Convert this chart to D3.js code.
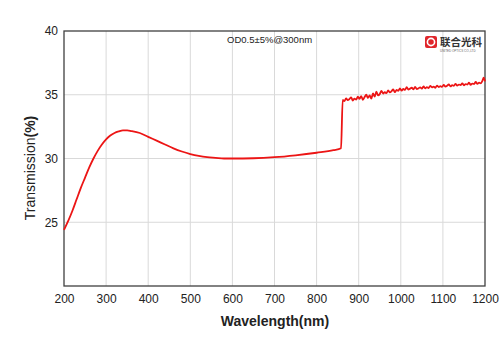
<!DOCTYPE html>
<html><head><meta charset="utf-8">
<script src="https://cdn.jsdelivr.net/npm/d3@7"></script>
<style>body{margin:0;background:#fff}svg{display:block}</style>
</head><body>
<svg id="c" width="500" height="353"></svg>
<script>
const xTicks = [200,300,400,500,600,700,800,900,1000,1100,1200];
const yTicks = [25,30,35,40];
const title = "OD0.5±5%@300nm";
const smoothWl = [200,210,220,230,240,250,260,270,280,290,300,310,320,330,340,350,360,380,400,420,440,460,480,500,520,540,560,580,600,650,700,750,800,840,858];
const smoothT  = [24.4,25.1,25.9,26.8,27.7,28.5,29.3,30.0,30.6,31.1,31.5,31.8,32.0,32.12,32.2,32.2,32.15,32.0,31.7,31.4,31.1,30.8,30.55,30.35,30.2,30.1,30.05,30.0,30.0,30.02,30.1,30.25,30.45,30.65,30.8];
const noisyWl = [862,866,870,874,878,882,886,890,894,898,902,906,910,914,918,922,926,930,934,938,942,946,950,954,958,962,966,970,974,978,982,986,990,994,998,1002,1006,1010,1014,1018,1022,1026,1030,1034,1038,1042,1046,1050,1054,1058,1062,1066,1070,1074,1078,1082,1086,1090,1094,1098,1102,1106,1110,1114,1118,1122,1126,1130,1134,1138,1142,1146,1150,1154,1158,1162,1166,1170,1174,1178,1182,1186,1190,1194,1197,1200];
const noisyT  = [34.6,34.5,34.72,34.58,34.66,34.8,34.55,34.7,34.62,34.85,34.68,34.9,34.6,34.82,35.0,34.75,34.95,34.7,35.1,34.85,35.25,34.95,35.05,35.3,35.1,35.2,35.12,35.35,35.18,35.28,35.42,35.2,35.38,35.3,35.5,35.32,35.45,35.38,35.6,35.4,35.48,35.55,35.42,35.62,35.45,35.5,35.58,35.48,35.66,35.5,35.6,35.52,35.7,35.58,35.64,35.55,35.72,35.6,35.68,35.62,35.78,35.64,35.7,35.82,35.66,35.75,35.7,35.85,35.72,35.8,35.76,35.9,35.74,35.84,35.8,35.95,35.78,35.88,35.84,36.0,35.85,35.95,35.9,36.1,36.35,36.05];

const svg = d3.select("#c");
const L=64, R=485, T=31, B=286;
const x = d3.scaleLinear().domain([200,1200]).range([L,R]);
const y = d3.scaleLinear().domain([20,40]).range([B,T]);
const font = "'Liberation Sans', Arial, sans-serif";

// grid
svg.append("g").selectAll("line").data(xTicks.slice(1,-1)).join("line")
  .attr("x1",d=>x(d)).attr("x2",d=>x(d)).attr("y1",T).attr("y2",B)
  .attr("stroke","#d9d9d9").attr("stroke-width",1);
svg.append("g").selectAll("line").data(yTicks.slice(0,-1)).join("line")
  .attr("x1",L).attr("x2",R).attr("y1",d=>y(d)).attr("y2",d=>y(d))
  .attr("stroke","#d9d9d9").attr("stroke-width",1);

// frame
svg.append("rect").attr("x",L).attr("y",T).attr("width",R-L).attr("height",B-T)
  .attr("fill","none").attr("stroke","#404040").attr("stroke-width",1.3);

// axes
const xAxis = svg.append("g").attr("transform",`translate(0,${B})`)
  .call(d3.axisBottom(x).tickValues(xTicks).tickFormat(d3.format("d")).tickSize(0).tickPadding(8));
const yAxis = svg.append("g").attr("transform",`translate(${L},0)`)
  .call(d3.axisLeft(y).tickValues(yTicks).tickFormat(d3.format("d")).tickSize(0).tickPadding(6));
[xAxis,yAxis].forEach(a=>{a.select(".domain").remove();
  a.selectAll("text").attr("font-family",font).attr("font-size",12).attr("fill","#222");});

// data line
const pts = smoothWl.map((w,i)=>[w,smoothT[i]]).concat(noisyWl.map((w,i)=>[w,noisyT[i]]));
const line = d3.line().x(d=>x(d[0])).y(d=>y(d[1])).curve(d3.curveMonotoneX);
svg.append("path").datum(pts).attr("d",line).attr("fill","none")
  .attr("stroke","#ec1515").attr("stroke-width",1.8).attr("stroke-linejoin","round");

// title
svg.append("text").attr("x",227).attr("y",43).attr("font-family",font)
  .attr("font-size",9.5).attr("fill","#222").text(title);

// logo
const lg = svg.append("g");
lg.append("rect").attr("x",425).attr("y",36).attr("width",12).attr("height",12).attr("rx",2).attr("fill","#e0262b");
lg.append("circle").attr("cx",431).attr("cy",42).attr("r",3.6).attr("fill","none").attr("stroke","#fff").attr("stroke-width",1.6);
lg.append("text").attr("x",440).attr("y",46).attr("font-family","'Noto Sans CJK SC', sans-serif")
  .attr("font-weight","bold").attr("font-size",10.5).attr("fill","#333").text("联合光科");
lg.append("text").attr("x",440).attr("y",51.5).attr("font-family",font)
  .attr("font-size",3).attr("fill","#666").text("UNITED OPTICS CO.,LTD");

// axis titles
svg.append("text").attr("x",275).attr("y",326).attr("text-anchor","middle")
  .attr("font-family",font).attr("font-weight","bold").attr("font-size",14).attr("fill","#222")
  .text("Wavelength(nm)");
const yl = svg.append("text").attr("transform","translate(35,168) rotate(-90)").attr("text-anchor","middle")
  .attr("font-family",font).attr("font-size",14).attr("fill","#222");
yl.append("tspan").text("Transmission");
yl.append("tspan").attr("font-weight","bold").text("(%)");
</script>
</body></html>
